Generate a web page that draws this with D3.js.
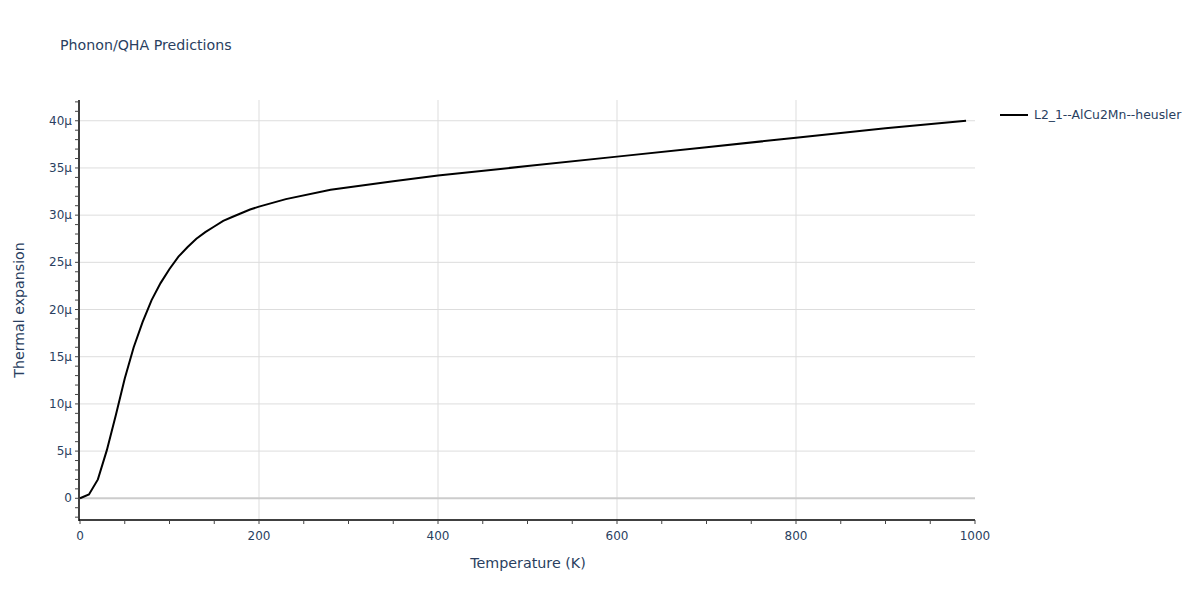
<!DOCTYPE html>
<html><head><meta charset="utf-8">
<script src="https://cdn.jsdelivr.net/npm/d3@7"></script>
<style>body{margin:0;background:#fff;} text{font-family:"DejaVu Sans",Verdana,sans-serif;}</style>
</head><body>
<svg id="c" width="1200" height="600"></svg>
<script>
const temperature = [0,10,20,30,40,50,60,70,80,90,100,110,120,130,140,150,160,170,180,190,200,230,280,350,400,500,600,700,800,900,990];
const expansion = [0,0.4,2.0,5.1,8.8,12.7,16.0,18.7,21.0,22.8,24.3,25.6,26.6,27.5,28.2,28.8,29.4,29.8,30.2,30.6,30.9,31.7,32.7,33.6,34.2,35.2,36.2,37.2,38.2,39.2,40.0].map(v=>v*1e-6);
const seriesName = "L2_1--AlCu2Mn--heusler";
const xTicks = [0,200,400,600,800,1000];
const yTicks = [0,5e-6,10e-6,15e-6,20e-6,25e-6,30e-6,35e-6,40e-6];
const yTickLabels = ["0","5μ","10μ","15μ","20μ","25μ","30μ","35μ","40μ"];

const svg = d3.select("#c");
const ink = "#2a3f5f";
const x = d3.scaleLinear().domain([0,1000]).range([80,975]);
const y = d3.scaleLinear().domain([-2.3e-6,42.2e-6]).range([520,100]);

// grid
svg.append("g").selectAll("line").data(xTicks.filter(d=>d>0 && d<1000)).join("line")
  .attr("x1",d=>x(d)).attr("x2",d=>x(d)).attr("y1",100).attr("y2",520)
  .attr("stroke","#dddddd").attr("stroke-width",1);
svg.append("g").selectAll("line").data(yTicks.filter(d=>d!==0)).join("line")
  .attr("x1",80).attr("x2",975).attr("y1",d=>y(d)).attr("y2",d=>y(d))
  .attr("stroke","#dddddd").attr("stroke-width",1);
// zero line
svg.append("line").attr("x1",80).attr("x2",975).attr("y1",y(0)).attr("y2",y(0))
  .attr("stroke","#cccccc").attr("stroke-width",2);

// x axis
const xAxis = svg.append("g").attr("transform","translate(0,520)");
xAxis.append("line").attr("x1",79).attr("x2",975).attr("stroke","#000").attr("stroke-width",1.5);
xAxis.selectAll("line.t").data(d3.range(0,1001,50)).join("line").attr("class","t")
  .attr("x1",d=>x(d)).attr("x2",d=>x(d)).attr("y1",0).attr("y2",4).attr("stroke","#444");
xAxis.selectAll("text").data(xTicks).join("text")
  .attr("x",d=>x(d)).attr("y",20).attr("text-anchor","middle")
  .attr("font-size",12).attr("fill",ink).text(d=>d);

// y axis
const yAxis = svg.append("g");
yAxis.append("line").attr("x1",79).attr("x2",79).attr("y1",100).attr("y2",521).attr("stroke","#000").attr("stroke-width",1.5);
yAxis.selectAll("line.m").data(d3.range(-2,43,1).map(v=>v*1e-6)).join("line").attr("class","m")
  .attr("x1",75).attr("x2",79).attr("y1",d=>y(d)).attr("y2",d=>y(d)).attr("stroke","#444");
yAxis.selectAll("text").data(yTicks).join("text")
  .attr("x",72).attr("y",(d)=>y(d)+4).attr("text-anchor","end")
  .attr("font-size",12).attr("fill",ink).text((d,i)=>yTickLabels[i]);

// line
svg.append("path").datum(temperature.map((t,i)=>[t,expansion[i]]))
  .attr("fill","none").attr("stroke","#000").attr("stroke-width",2)
  .attr("d",d3.line().x(d=>x(d[0])).y(d=>y(d[1])));

// titles
svg.append("text").attr("x",60).attr("y",50).attr("font-size",14.2).attr("fill",ink).text("Phonon/QHA Predictions");
svg.append("text").attr("x",528).attr("y",568).attr("text-anchor","middle").attr("font-size",14.3).attr("fill",ink).text("Temperature (K)");
svg.append("text").attr("transform","translate(24,310) rotate(-90)").attr("text-anchor","middle").attr("font-size",14.2).attr("fill",ink).text("Thermal expansion");

// legend
svg.append("line").attr("x1",1000).attr("x2",1028).attr("y1",115).attr("y2",115).attr("stroke","#000").attr("stroke-width",2);
svg.append("text").attr("x",1034).attr("y",119).attr("font-size",12.4).attr("fill",ink).text(seriesName);
</script>
</body></html>
